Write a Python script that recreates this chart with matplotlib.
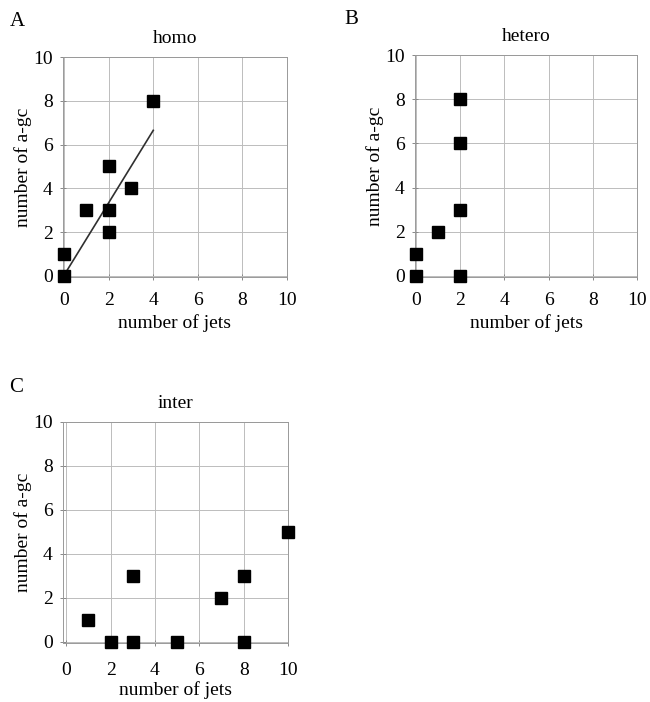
import matplotlib
matplotlib.use("Agg")
import matplotlib.pyplot as plt

plt.rcParams['font.family'] = ['Liberation Serif', 'DejaVu Serif']

homo_x = [0, 0, 1, 2, 2, 2, 3, 4]
homo_y = [0, 1, 3, 5, 3, 2, 4, 8]
homo_fit_x = [0.1, 4.0]
homo_fit_y = [0.2, 6.65]

hetero_x = [0, 0, 1, 2, 2, 2, 2]
hetero_y = [0, 1, 2, 0, 3, 6, 8]

inter_x = [1, 2, 3, 3, 5, 7, 8, 8, 10]
inter_y = [1, 0, 0, 3, 0, 2, 3, 0, 5]

ticks = [0, 2, 4, 6, 8, 10]

W, H = 650, 702
fig = plt.figure(figsize=(6.5, 7.02), dpi=100)

def mk(x0, x1, y0, y1):
    return fig.add_axes([x0 / W, 1 - y1 / H, (x1 - x0) / W, (y1 - y0) / H])

def style(ax, title, letter, lx, ly, xlo=-0.05, xpad=8, xlp=4):
    ax.set_xlim(xlo, 10)
    ax.set_ylim(-0.05, 10)
    ax.set_xticks(ticks)
    ax.set_yticks(ticks)
    ax.grid(True, color='#bcbcbc', lw=0.7)
    ax.set_axisbelow(True)
    for s in ax.spines.values():
        s.set_color('#999999')
        s.set_linewidth(0.7)
    ax.tick_params(direction='inout', length=5, width=0.7, color='#888888',
                   labelsize=14)
    ax.tick_params(axis='x', pad=xpad)
    ax.tick_params(axis='y', pad=5)
    ax.set_xlabel('number of jets', fontsize=14, labelpad=xlp)
    ax.set_ylabel('number of a-gc', fontsize=14, labelpad=1)
    ax.set_title(title, fontsize=14, pad=10)
    fig.text(lx / W, 1 - ly / H, letter, fontsize=15, ha='left', va='center')

axA = mk(63, 287, 57, 277)
axA.plot(homo_fit_x, homo_fit_y, color='#303030', lw=1.2, zorder=2)
axA.plot(homo_x, homo_y, 's', color='black', ms=8, clip_on=False, zorder=3)
style(axA, 'homo', 'A', 10, 22)

axB = mk(415, 637, 55, 277)
axB.plot(hetero_x, hetero_y, 's', color='black', ms=8, clip_on=False, zorder=3)
style(axB, 'hetero', 'B', 344, 20)

axC = mk(63, 288, 422, 643)
axC.plot(inter_x, inter_y, 's', color='black', ms=8, clip_on=False, zorder=3)
style(axC, 'inter', 'C', 9, 388, xlo=-0.15, xpad=11, xlp=2)

fig.savefig('out.png', dpi=100, facecolor='white')
